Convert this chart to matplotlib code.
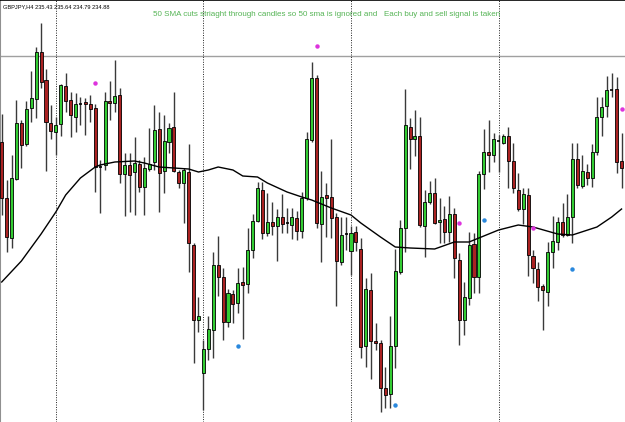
import matplotlib.pyplot as plt
from matplotlib.patches import Rectangle

# GBPJPY H4 candles
opens = [238.58, 238.02, 237.62, 238.21, 238.77, 238.56, 238.92, 239.01, 239.48, 239.20,
         238.77, 238.68, 238.76, 239.14, 239.00, 238.83, 238.96, 238.98, 238.96, 238.92,
         238.34, 238.35, 238.99, 238.97, 239.05, 238.26, 238.35, 238.28, 238.36, 238.13,
         238.31, 238.38, 238.71, 238.29, 238.58, 238.73, 238.28, 238.17, 238.28, 237.55,
         236.80, 236.27, 236.51, 236.70, 237.35, 237.23, 236.78, 237.06, 236.97, 237.18,
         237.16, 237.50, 237.79, 238.10, 237.67, 237.78, 237.74, 237.83, 237.77, 237.75,
         237.82, 237.69, 238.02, 238.60, 239.22, 237.76, 238.05, 238.03, 237.83, 237.38,
         237.66, 237.49, 237.68, 237.51, 236.54, 237.10, 236.59, 236.57, 236.12, 236.06,
         236.54, 237.28, 237.72, 238.73, 238.61, 238.64, 237.74, 237.98, 238.07, 237.78,
         237.81, 237.68, 237.86, 237.40, 236.80, 237.02, 237.56, 237.23, 238.26, 238.48,
         238.45, 238.60, 238.57, 238.64, 238.39, 238.10, 237.91, 238.05, 237.44, 237.31,
         237.14, 237.08, 237.48, 237.58, 237.78, 237.65, 237.83, 238.41, 238.14, 238.28,
         238.22, 238.48, 238.83, 238.94, 239.11, 239.11, 238.39]
highs = [238.86, 238.20, 238.45, 239.00, 238.80, 238.99, 239.29, 239.53, 239.77, 239.31,
         238.95, 238.83, 239.16, 239.27, 239.08, 239.07, 239.03, 239.02, 239.05, 238.96,
         238.40, 239.08, 239.19, 239.40, 239.12, 238.47, 238.47, 238.63, 238.40, 238.43,
         238.72, 238.95, 238.88, 238.85, 238.77, 239.08, 238.30, 238.32, 238.56, 237.57,
         237.03, 236.60, 236.84, 237.48, 237.64, 237.32, 237.11, 237.10, 237.32, 237.33,
         237.72, 237.86, 238.18, 238.18, 238.07, 237.98, 237.91, 238.06, 237.92, 237.92,
         237.89, 238.08, 238.68, 239.38, 239.25, 238.29, 238.17, 238.61, 237.87, 237.83,
         237.83, 237.74, 237.74, 237.62, 237.22, 237.27, 236.77, 236.60, 236.33, 236.84,
         237.51, 237.80, 239.11, 238.82, 238.90, 238.83, 238.10, 238.19, 238.22, 238.02,
         237.94, 238.04, 237.92, 237.47, 237.18, 237.68, 237.67, 238.29, 238.71, 238.80,
         238.67, 238.65, 238.66, 238.73, 238.57, 238.27, 238.12, 238.12, 237.50, 237.38,
         237.16, 237.58, 237.84, 237.83, 237.97, 238.06, 238.57, 238.57, 238.45, 238.36,
         238.56, 239.03, 239.03, 239.24, 239.27, 239.23, 238.67]
lows = [237.85, 237.48, 237.52, 238.20, 238.32, 238.54, 238.78, 238.82, 239.12, 238.29,
        238.61, 238.45, 238.64, 238.88, 238.63, 238.68, 238.75, 238.65, 238.78, 238.08,
        237.87, 238.30, 238.80, 238.88, 238.17, 237.84, 237.88, 237.85, 238.08, 237.85,
        238.29, 238.30, 237.88, 238.07, 238.47, 238.28, 238.12, 237.77, 237.28, 236.37,
        236.68, 235.90, 236.40, 236.42, 237.04, 236.60, 236.73, 236.77, 236.87, 236.61,
        237.07, 237.42, 237.78, 237.61, 237.64, 237.65, 237.39, 237.67, 237.67, 237.61,
        237.60, 237.62, 238.00, 238.58, 237.72, 237.38, 237.63, 237.62, 236.94, 237.35,
        237.50, 237.25, 237.49, 236.42, 236.33, 236.21, 236.50, 235.88, 235.92, 235.92,
        236.32, 237.26, 237.48, 238.31, 238.44, 237.73, 237.43, 237.96, 237.76, 237.57,
        237.57, 237.58, 237.22, 236.55, 236.65, 236.95, 237.07, 237.07, 238.11, 238.28,
        238.38, 238.28, 238.56, 238.12, 238.07, 237.89, 237.76, 237.24, 237.17, 236.99,
        236.70, 236.94, 237.32, 237.50, 237.63, 237.64, 237.57, 238.12, 238.12, 238.15,
        238.13, 238.45, 238.64, 238.83, 239.03, 238.27, 238.12]
closes = [238.02, 237.63, 238.22, 238.77, 238.55, 238.91, 239.02, 239.48, 239.18, 238.78,
          238.69, 238.75, 239.15, 238.99, 238.85, 238.96, 238.97, 238.96, 238.91, 238.33,
          238.33, 238.99, 238.97, 239.04, 238.26, 238.35, 238.25, 238.37, 238.13, 238.32,
          238.36, 238.70, 238.27, 238.59, 238.72, 238.29, 238.17, 238.30, 237.57, 236.80,
          236.84, 236.51, 236.71, 237.35, 237.23, 236.78, 237.07, 236.96, 237.17, 237.15,
          237.50, 237.79, 238.12, 237.67, 237.78, 237.74, 237.83, 237.76, 237.77, 237.83,
          237.69, 238.02, 238.61, 239.22, 237.77, 238.03, 238.02, 237.82, 237.39, 237.65,
          237.67, 237.67, 237.58, 236.53, 237.11, 236.59, 236.57, 236.12, 236.05, 236.54,
          237.29, 237.72, 238.75, 238.61, 238.64, 237.75, 237.98, 238.07, 237.77, 237.80,
          237.68, 237.86, 237.42, 236.80, 237.03, 237.55, 237.23, 238.26, 238.48, 238.45,
          238.61, 238.59, 238.64, 238.39, 238.12, 237.91, 238.06, 237.45, 237.32, 237.13,
          237.10, 237.48, 237.59, 237.78, 237.65, 237.83, 238.41, 238.15, 238.29, 238.22,
          238.48, 238.83, 238.93, 239.10, 239.10, 238.38, 238.32]

# 50 SMA, read at selected bars
sma_bars = [0, 4, 8, 11, 13, 16, 19, 20, 23, 27, 29, 32, 35, 38, 40, 42, 44, 47, 49, 52,
            54, 58, 61, 63, 67, 71, 73, 77, 80, 83, 88, 92, 95, 101, 105, 108, 113, 116,
            121, 124, 126]
sma_vals = [237.18, 237.39, 237.66, 237.88, 238.05, 238.22, 238.33, 238.35, 238.38, 238.39,
            238.37, 238.33, 238.32, 238.31, 238.28, 238.30, 238.33, 238.30, 238.24, 238.23,
            238.17, 238.08, 238.03, 238.00, 237.92, 237.85, 237.77, 237.63, 237.53, 237.52,
            237.51, 237.58, 237.58, 237.70, 237.75, 237.73, 237.66, 237.65, 237.73, 237.83,
            237.91]

sell_bars = [19, 64, 93, 108, 126]
sell_vals = [239.17, 239.54, 237.77, 237.72, 238.91]
buy_bars = [48, 80, 98, 116]
buy_vals = [236.54, 235.95, 237.80, 237.31]

separator_bars = [11, 41, 71, 101]
level_price = 239.44

header = "GBPJPY,H4 235.43 235.64 234.79 234.88"
note = "50 SMA cuts striaght through candles so 50 sma is ignored and   Each buy and sell signal is taken"

fig = plt.figure(figsize=(6.25, 4.22), dpi=100)
ax = fig.add_axes([0, 0, 1, 1])

# horizontal level and weekly separators
ax.axhline(level_price, color="#a0a0a0", lw=1.0, zorder=1)
for b in separator_bars:
    ax.axvline(b, color="#202020", lw=0.7, ls=(0, (1, 1.5)), zorder=1)

# candles
w = 0.62
xs = list(range(len(opens)))
ax.vlines(xs, lows, highs, color="#3a3a3a", lw=1.0, zorder=2)
for i in xs:
    o, c = opens[i], closes[i]
    if abs(c - o) < 0.015:
        ax.hlines((o + c) / 2, i - w / 2, i + w / 2, color="black", lw=1.2, zorder=3)
        continue
    col = "#33cc33" if c > o else "#aa2222"
    ax.add_patch(Rectangle((i - w / 2, min(o, c)), w, abs(c - o),
                           facecolor=col, edgecolor="black", lw=0.6, zorder=3))

# 50 SMA
ax.plot(sma_bars, sma_vals, color="black", lw=1.0, zorder=4)

# signals
ax.plot(sell_bars, sell_vals, "o", color="#dd33dd", ms=3.2, mec="none", zorder=5)
ax.plot(buy_bars, buy_vals, "o", color="#2a88dd", ms=3.2, mec="none", zorder=5)

ax.set_xlim(-0.35, 126.7)
ax.set_ylim(235.78, 240.0)
ax.set_xticks([])
ax.set_yticks([])
for side in ["right", "bottom"]:
    ax.spines[side].set_visible(False)
ax.spines["top"].set_color("black")
ax.spines["top"].set_linewidth(1.2)
ax.spines["left"].set_color("#909090")
ax.spines["left"].set_linewidth(1.5)

fig.text(3 / 625, 1 - 7 / 422, header, fontsize=4.1, family="Liberation Sans",
         va="center", ha="left", color="black")
fig.text(327 / 625, 1 - 15 / 422, note, fontsize=5.8, family="Liberation Sans",
         va="center", ha="center", color="#55b455")

fig.savefig("out.png", dpi=100)
